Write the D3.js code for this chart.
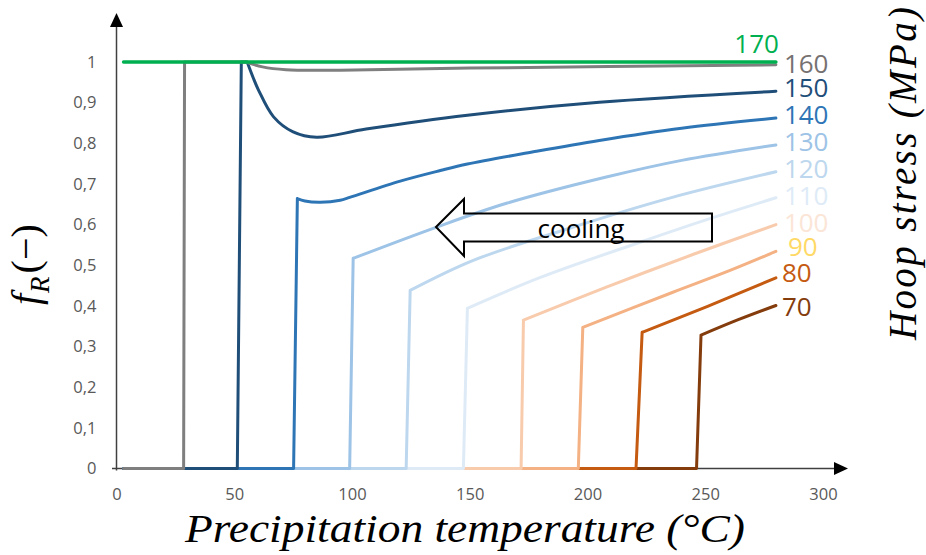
<!DOCTYPE html>
<html>
<head>
<meta charset="utf-8">
<script src="https://cdn.jsdelivr.net/npm/d3@7"></script>
<style>
  html, body { margin: 0; padding: 0; background: #fff; }
  svg { display: block; }
</style>
</head>
<body>
<svg id="chart" width="926" height="555"></svg>
<script>
// ---------- data ----------
const stresses = [70, 80, 90, 100, 110, 120, 130, 140, 150, 160, 170];

const s70  = [[3,0],[246.3,0],[248.2,0.328],[264,0.366],[280,0.401]];
const s80  = [[3,0],[220.6,0],[223.2,0.335],[251,0.399],[280,0.469]];
const s90  = [[3,0],[196.1,0],[198,0.347],[236,0.433],[260,0.486],[280,0.534]];
const s100 = [[3,0],[171.8,0],[172.8,0.365],[208,0.446],[245,0.527],[280,0.600]];
const s110 = [[3,0],[147.3,0],[149,0.394],[180,0.470],[222,0.556],[250,0.611],[280,0.666]];
const s120 = [[3,0],[123,0],[124.7,0.438],[151.5,0.512],[194,0.594],[236,0.667],[280,0.730]];
const s130 = [[3,0],[99,0],[100.5,0.517],[136,0.594],[166,0.653],[208,0.717],[240,0.758],[280,0.796]];
const s140 = [[3,0],[75.2,0],[76.8,0.664],[80,0.658],[86.5,0.655],[95,0.660],[99,0.667],[120.5,0.707],[137.5,0.733],[149,0.749],[177,0.779],[205,0.807],[240,0.837],[280,0.862]];
const s150 = [[3,0],[51.3,0],[53,1],[55.5,1],[58,0.962],[60.3,0.931],[66.7,0.865],[75,0.828],[85,0.815],[106,0.835],[149,0.869],[205,0.901],[280,0.928]];
const s160 = [[3,0],[28.5,0],[28.9,1],[55,1],[62,0.988],[72,0.981],[95,0.980],[150,0.985],[280,0.993]];
const s170 = [[3,1],[280,1]];
const seriesValues = [s70, s80, s90, s100, s110, s120, s130, s140, s150, s160, s170];

const xTicks = [0, 50, 100, 150, 200, 250, 300];
const yTicks = [0, 0.1, 0.2, 0.3, 0.4, 0.5, 0.6, 0.7, 0.8, 0.9, 1];
const yTickLabels = ["0", "0,1", "0,2", "0,3", "0,4", "0,5", "0,6", "0,7", "0,8", "0,9", "1"];

const xTitle = "Precipitation temperature (°C)";
const rightTitle = "Hoop stress (MPa)";
const arrowText = "cooling";

// ---------- styles ----------
const lineColors  = ["#843c0c","#c55a11","#f4b183","#f8cbad","#deebf7","#bdd7ee","#9dc3e6","#2e75b6","#1f4e79","#7f7f7f","#00b050"];
const labelColors = ["#843c0c","#c55a11","#ffd966","#fbe5d6","#deebf7","#bdd7ee","#9dc3e6","#2e75b6","#1f4e79","#767171","#00b050"];
// label layout: [dx from line end, baseline y offset from line end]
const labelLayout = [[6,11],[6,4],[12,5],[8,7],[8,7],[8,6],[8,6],[8,6],[8,6],[8,8],[3,-9]];

// ---------- scales ----------
const svg = d3.select("#chart");
const x = d3.scaleLinear().domain([0, 300]).range([116.5, 823]);
const y = d3.scaleLinear().domain([0, 1]).range([468.5, 62]);

// ---------- axes (tick labels) ----------
const xAxis = d3.axisBottom(x).tickValues(xTicks).tickSize(0).tickPadding(20)
  .tickFormat(d => String(d));
const gx = svg.append("g").attr("transform", `translate(0,${y(0)})`).call(xAxis);
gx.select(".domain").remove();
gx.selectAll("text").attr("font-family", "Open Sans, Noto Sans, sans-serif")
  .attr("font-size", 16.5).attr("fill", "#595959");

const yAxis = d3.axisLeft(y).tickValues(yTicks).tickSize(0).tickPadding(20)
  .tickFormat((d, i) => yTickLabels[i]);
const gy = svg.append("g").attr("transform", `translate(${x(0)},0)`).call(yAxis);
gy.select(".domain").remove();
gy.selectAll("text").attr("font-family", "Open Sans, Noto Sans, sans-serif")
  .attr("font-size", 16.5).attr("fill", "#595959");

// axis lines with arrowheads
const axCol = "#404040";
svg.append("line").attr("x1", x(0)).attr("x2", x(0)).attr("y1", y(0) + 2).attr("y2", 26)
  .attr("stroke", axCol).attr("stroke-width", 1.5);
svg.append("path").attr("d", `M${x(0)},13 L${x(0) - 6.5},27 L${x(0) + 6.5},27 Z`).attr("fill", "#000");
svg.append("line").attr("x1", x(0) - 4.5).attr("x2", 836).attr("y1", y(0)).attr("y2", y(0))
  .attr("stroke", axCol).attr("stroke-width", 1.5);
svg.append("path").attr("d", `M848,${y(0)} L834,${y(0) - 6.5} L834,${y(0) + 6.5} Z`).attr("fill", "#000");

// ---------- lines ----------
// the step (zero run + jump + any flat run after it) is drawn straight,
// the part after that is smoothed
const headLine = d3.line().x(d => x(d[0])).y(d => y(d[1])).curve(d3.curveLinear);
const tailLine = d3.line().x(d => x(d[0])).y(d => y(d[1])).curve(d3.curveCatmullRom.alpha(0.5));
function seriesPath(d) {
  let j = d.findIndex(p => p[1] > 0);
  if (j <= 0) return tailLine(d);
  while (j + 1 < d.length && d[j + 1][1] === d[j][1]) j++;
  return headLine(d.slice(0, j + 1)) + tailLine(d.slice(j));
}
svg.append("g").selectAll("path").data(seriesValues).join("path")
  .attr("d", seriesPath)
  .attr("fill", "none")
  .attr("stroke", (d, i) => lineColors[i])
  .attr("stroke-width", (d, i) => stresses[i] === 170 ? 3.5 : 3)
  .attr("stroke-linejoin", "round")
  .attr("stroke-linecap", "round");

// ---------- series labels ----------
svg.append("g").selectAll("text").data(seriesValues).join("text")
  .attr("x", (d, i) => x(d[d.length - 1][0]) + labelLayout[i][0])
  .attr("y", (d, i) => y(d[d.length - 1][1]) + labelLayout[i][1])
  .attr("text-anchor", (d, i) => stresses[i] === 170 ? "end" : "start")
  .attr("font-family", "Open Sans, Noto Sans, sans-serif")
  .attr("font-size", 26)
  .attr("fill", (d, i) => labelColors[i])
  .text((d, i) => stresses[i]);

// ---------- cooling arrow ----------
const arrowPts = [[436,227],[464,199],[464,213.5],[712,213.5],[712,241.5],[464,241.5],[464,256]];
svg.append("path")
  .attr("d", "M" + arrowPts.map(p => p.join(",")).join("L") + "Z")
  .attr("fill", "none").attr("stroke", "#000").attr("stroke-width", 2)
  .attr("stroke-linejoin", "miter");
svg.append("text").attr("x", 581).attr("y", 237.5).attr("text-anchor", "middle")
  .attr("font-family", "Open Sans, Noto Sans, sans-serif").attr("font-size", 26)
  .attr("fill", "#000").text(arrowText);

// ---------- axis titles ----------
const serif = "Liberation Serif, DejaVu Serif, serif";
svg.append("text").attr("x", 185).attr("y", 542)
  .attr("font-family", serif).attr("font-style", "italic").attr("font-size", 41)
  .attr("textLength", 560).attr("lengthAdjust", "spacingAndGlyphs")
  .attr("fill", "#000").text(xTitle);

svg.append("text").attr("transform", "translate(916,340) rotate(-90)")
  .attr("font-family", serif).attr("font-style", "italic").attr("font-size", 39)
  .attr("textLength", 333).attr("lengthAdjust", "spacing")
  .attr("fill", "#000").text(rightTitle);

const yt = svg.append("text").attr("transform", "translate(39,305) rotate(-90)")
  .attr("font-family", serif).attr("font-size", 40).attr("fill", "#000");
yt.append("tspan").attr("font-style", "italic").text("f");
yt.append("tspan").attr("font-style", "italic").attr("font-size", 27).attr("dy", 10).attr("dx", 1).text("R");
yt.append("tspan").attr("dy", -10).attr("dx", 3).text("(−)");
</script>
</body>
</html>
